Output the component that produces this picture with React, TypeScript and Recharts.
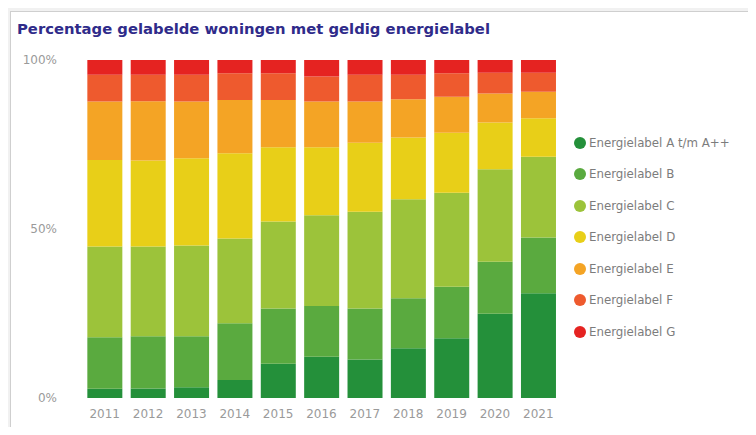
import React from 'react';
import { BarChart, Bar, XAxis, YAxis, Legend } from 'recharts';

// jaren en aandeel per energielabel (%)
const years = ['2011', '2012', '2013', '2014', '2015', '2016', '2017', '2018', '2019', '2020', '2021'];
const labelA = [2.7, 2.8, 3.2, 5.3, 10.1, 12.2, 11.4, 14.7, 17.7, 24.9, 31.0];
const labelB = [15.3, 15.5, 15.1, 16.8, 16.4, 15.0, 15.1, 14.8, 15.2, 15.4, 16.5];
const labelC = [26.8, 26.5, 26.8, 25.1, 25.7, 26.9, 28.6, 29.3, 27.8, 27.4, 23.9];
const labelD = [25.6, 25.5, 25.8, 25.2, 22.0, 20.1, 20.4, 18.3, 17.8, 13.8, 11.4];
const labelE = [17.3, 17.5, 16.8, 15.8, 14.0, 13.5, 12.2, 11.3, 10.6, 8.6, 7.8];
const labelF = [7.9, 7.8, 7.9, 7.9, 7.9, 7.4, 7.9, 7.2, 7.0, 6.1, 5.6];
const labelG = [4.4, 4.4, 4.4, 3.9, 3.9, 4.9, 4.4, 4.4, 3.9, 3.8, 3.8];

const seriesNames = [
  'Energielabel A t/m A++',
  'Energielabel B',
  'Energielabel C',
  'Energielabel D',
  'Energielabel E',
  'Energielabel F',
  'Energielabel G',
];
const seriesKeys = ['a', 'b', 'c', 'd', 'e', 'f', 'g'];
const seriesValues = [labelA, labelB, labelC, labelD, labelE, labelF, labelG];
const colors = ['#24903a', '#5aaa3f', '#9cc33a', '#e8cf18', '#f4a425', '#ee5a2e', '#e52321'];
const yTicks = [0, 0.5, 1];

const data = years.map((year, i) => {
  const row: any = { year };
  seriesKeys.forEach((k, s) => {
    row[k] = seriesValues[s][i];
  });
  return row;
});

const renderLegend = (props: any) => {
  const { payload } = props;
  return (
    <ul style={{ listStyle: 'none', margin: 0, padding: 0 }}>
      {payload.map((entry: any, i: number) => (
        <li
          key={`item-${i}`}
          style={{ display: 'flex', alignItems: 'center', height: 31.5, paddingLeft: 14 }}
        >
          <span
            style={{
              display: 'inline-block',
              flexShrink: 0,
              width: 12,
              height: 12,
              borderRadius: '50%',
              background: entry.color,
              marginRight: 3,
            }}
          />
          <span
            style={{
              fontFamily: 'DejaVu Sans',
              fontSize: 11.8,
              color: '#7c7c7c',
              whiteSpace: 'nowrap',
            }}
          >
            {entry.value}
          </span>
        </li>
      ))}
    </ul>
  );
};

export default function App() {
  return (
    <div
      style={{
        position: 'relative',
        width: 756,
        height: 435,
        margin: -8,
        background: '#f1f1f1',
        overflow: 'hidden',
      }}
    >
      <div
        style={{
          position: 'absolute',
          left: 10,
          top: 11,
          width: 760,
          height: 440,
          background: '#ffffff',
          border: '1px solid #cfcfcf',
        }}
      />
      <div
        style={{
          position: 'absolute',
          left: 17,
          top: 20,
          fontFamily: 'DejaVu Sans',
          fontWeight: 'bold',
          fontSize: 14.8,
          color: '#2f2b8a',
          whiteSpace: 'nowrap',
        }}
      >
        Percentage gelabelde woningen met geldig energielabel
      </div>
      <div style={{ position: 'absolute', left: 0, top: 0 }}>
        <BarChart
          width={756}
          height={435}
          data={data}
          stackOffset="expand"
          barCategoryGap="10%"
          margin={{ top: 60, right: 26, bottom: 0, left: 0 }}
        >
          <XAxis
            dataKey="year"
            axisLine={false}
            tickLine={false}
            tickMargin={5}
            height={37}
            interval={0}
            tick={{ fill: '#9a9a9a', fontSize: 12, fontFamily: 'DejaVu Sans' }}
          />
          <YAxis
            width={83}
            domain={[0, 1]}
            ticks={yTicks}
            axisLine={false}
            tickLine={false}
            tickMargin={20}
            tickFormatter={(v: number) => `${Math.round(v * 100)}%`}
            tick={{ fill: '#9a9a9a', fontSize: 12, fontFamily: 'DejaVu Sans' }}
          />
          <Legend
            layout="vertical"
            align="right"
            verticalAlign="top"
            width={170}
            wrapperStyle={{ top: 127 }}
            content={renderLegend}
          />
          {seriesKeys.map((k, s) => (
            <Bar
              key={k}
              dataKey={k}
              name={seriesNames[s]}
              stackId="labels"
              fill={colors[s]}
              isAnimationActive={false}
            />
          ))}
        </BarChart>
      </div>
    </div>
  );
}
